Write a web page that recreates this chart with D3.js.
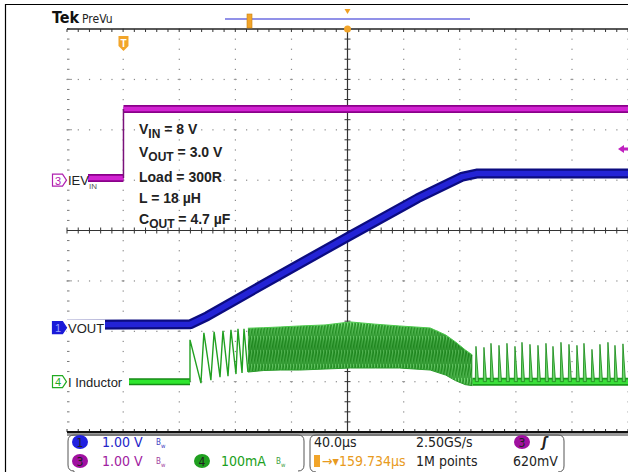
<!DOCTYPE html>
<html><head><meta charset="utf-8">
<script src="https://cdn.jsdelivr.net/npm/d3@7"></script>
<style>html,body{margin:0;padding:0;background:#fff;}svg{display:block}</style>
</head><body>
<svg id="scope" width="628" height="472"></svg>
<script>
// Horizontal: 40 µs/div over 10 divisions; vertical: 8 divisions
const timeDomain = [-200, 200];
const divDomain = [-4, 4];
const triggerTime = -159.734;

// Channel 3 (V_IN)
const vinTime  = [-200, -159.734, -159.734, 200];
const vinVolts = [0.04, 0.04, 1.41, 1.41];

// Channel 1 (VOUT)
const voutTime  = [-200, -112, -100, -50, 0, 50, 82, 92, 200];
const voutVolts = [0.06, 0.07, 0.23, 1.02, 1.80, 2.57, 3.0, 3.06, 3.06];

// Channel 4 (inductor current, mA)
const coilIdleTime = [-200, -112.3];
const coilIdleMA   = [0, 0];
const coilStartTime = [-112.3, -112.3, -104.5, -102.4, -97.4, -95.1, -90.9, -88.8, -85.2, -83.1, -79.5, -78.1, -75.2, -73.8, -71.0];
const coilStartMA   = [0, 83, -3, 97, 3, 99, 9, 101, 11, 103, 15, 105, 17, 105, 19];
const envTime     = [-71, -60, -48, -34, -16, 2, 20, 37, 59, 70, 77, 84, 89];
const envPeakMA   = [106, 107, 108.5, 110.5, 112.5, 118.5, 114, 110.5, 106.5, 92.7, 78.8, 62.9, 53];
const envValleyMA = [19, 22, 23, 23, 25, 27, 27, 27, 23, 13, 2, -6, -8];
const skipIdleTime = [89, 200];
const burstTime   = [91.6, 97.3, 102.3, 108.0, 113.7, 119.4, 124.4, 130.1, 135.8, 141.5, 146.5, 152.2, 157.9, 163.6, 168.6, 174.3, 180.0, 185.7, 190.7, 196.4];
const burstPeakMA = [70, 68, 76, 72, 76, 70, 78, 74, 72, 76, 70, 78, 74, 72, 76, 64, 74, 78, 72, 75];

// Channel vertical settings: marker offset (div) and units per div
const ch1 = {offset: -1.93, perDiv: 1};
const ch3 = {offset: 1.0, perDiv: 1};
const ch4 = {offset: -3.0, perDiv: 100};
const trigLevel = 0.62;

// Setup notes
const noteMain = ["V", "V", "Load  = 300R", "L = 18 \u00B5H", "C"];
const noteSub  = ["IN", "OUT", "", "", "OUT"];
const noteTail = [" = 8 V", " = 3.0 V", "", "", " = 4.7 \u00B5F"];

const svg = d3.select("#scope");
const x = d3.scaleLinear().domain(timeDomain).range([67, 628]);
const yDiv = d3.scaleLinear().domain(divDomain).range([432, 29]);
const yOf = ch => v => yDiv(ch.offset + v / ch.perDiv);
const y1 = yOf(ch1), y3 = yOf(ch3), y4 = yOf(ch4);
const zip = (a, b) => a.map((d, i) => [d, b[i]]);

// frame
svg.append("path").attr("d", "M5.5,472 V4.5 H628").attr("fill", "none").attr("stroke", "#000").attr("stroke-width", 1.2);

// graticule
const g = svg.append("g");
const dot = (cx, cy) => g.append("rect").attr("x", cx - 0.5).attr("y", cy - 0.5).attr("width", 1.2).attr("height", 1.2).attr("fill", "#8a8a8a");
const majorT = d3.range(-160, 201, 40).filter(t => t !== 0);
const minorT = d3.range(-200, 200.1, 8);
const majorD = d3.range(-3, 4, 1).filter(d => d !== 0);
const minorD = d3.range(-4, 4.01, 0.2);
majorT.forEach(t => minorD.forEach(d => dot(x(t), yDiv(d))));
majorD.forEach(d => minorT.forEach(t => dot(x(t), yDiv(d))));
majorT.forEach(t => majorD.forEach(d => {
  g.append("line").attr("x1", x(t) - 1.5).attr("x2", x(t) + 1.5).attr("y1", yDiv(d)).attr("y2", yDiv(d)).attr("stroke", "#999");
}));
// left border ticks
minorD.forEach(d => g.append("line").attr("x1", 67).attr("x2", 69.5).attr("y1", yDiv(d)).attr("y2", yDiv(d)).attr("stroke", "#777"));
majorD.forEach(d => g.append("line").attr("x1", 67).attr("x2", 72).attr("y1", yDiv(d)).attr("y2", yDiv(d)).attr("stroke", "#999"));

// center axes
const axisCol = "#333";
g.append("line").attr("x1", x(0)).attr("x2", x(0)).attr("y1", yDiv(4)).attr("y2", yDiv(-4)).attr("stroke", axisCol).attr("stroke-width", 1.2);
g.append("line").attr("x1", 67).attr("x2", 628).attr("y1", yDiv(0)).attr("y2", yDiv(0)).attr("stroke", axisCol).attr("stroke-width", 1);
minorD.forEach(d => g.append("line").attr("x1", x(0) - 3).attr("x2", x(0) + 3).attr("y1", yDiv(d)).attr("y2", yDiv(d)).attr("stroke", axisCol));
minorT.forEach(t => g.append("line").attr("x1", x(t)).attr("x2", x(t)).attr("y1", yDiv(0) - 3).attr("y2", yDiv(0) + 3).attr("stroke", axisCol));
// top and bottom borders
g.append("line").attr("x1", 67).attr("x2", 628).attr("y1", yDiv(4)).attr("y2", yDiv(4)).attr("stroke", "#222").attr("stroke-width", 1.5);
minorT.forEach(t => g.append("line").attr("x1", x(t)).attr("x2", x(t)).attr("y1", yDiv(4)).attr("y2", yDiv(4) + 3).attr("stroke", "#333"));
minorT.forEach(t => g.append("line").attr("x1", x(t)).attr("x2", x(t)).attr("y1", yDiv(-4) - 3).attr("y2", yDiv(-4)).attr("stroke", "#333"));
g.append("rect").attr("x", 67).attr("y", yDiv(-4) + 1).attr("width", 561).attr("height", 3).attr("fill", "#9a9a9a");
g.append("line").attr("x1", 67).attr("x2", 628).attr("y1", yDiv(-4)).attr("y2", yDiv(-4)).attr("stroke", "#111").attr("stroke-width", 2);

// defs: dense switching texture
const defs = svg.append("defs");
const pat = defs.append("pattern").attr("id", "sw").attr("patternUnits", "userSpaceOnUse").attr("width", 3).attr("height", 14);
pat.append("rect").attr("width", 3).attr("height", 14).attr("fill", "#79dc79");
pat.append("path").attr("d", "M0,0 L1.2,14 M1.2,0 L3,14 M-1.8,0 L0,14").attr("stroke", "#1d8a1d").attr("stroke-width", 0.9).attr("fill", "none");
const grad = defs.append("linearGradient").attr("id", "core").attr("x1", 0).attr("x2", 0).attr("y1", 0).attr("y2", 1);
grad.append("stop").attr("offset", "0%").attr("stop-color", "#0a6a0a").attr("stop-opacity", 0);
grad.append("stop").attr("offset", "40%").attr("stop-color", "#0a6a0a").attr("stop-opacity", 0.4);
grad.append("stop").attr("offset", "75%").attr("stop-color", "#0a6a0a").attr("stop-opacity", 0.2);
grad.append("stop").attr("offset", "100%").attr("stop-color", "#0a6a0a").attr("stop-opacity", 0);

const line = d3.line().x(d => x(d[0]));

// channel 4 inductor current
const tr = svg.append("g");
const idle = line.y(d => y4(d[1]));
tr.append("path").attr("d", idle(zip(coilIdleTime, coilIdleMA))).attr("stroke", "#168a16").attr("stroke-width", 7).attr("fill", "none");
tr.append("path").attr("d", idle(zip(coilIdleTime, coilIdleMA))).attr("stroke", "#2ee62e").attr("stroke-width", 4).attr("fill", "none");
tr.append("path").attr("d", idle(zip(skipIdleTime, [0, 0]))).attr("stroke", "#1a991a").attr("stroke-width", 8).attr("fill", "none");
tr.append("path").attr("d", idle(zip(skipIdleTime, [0, 0]))).attr("stroke", "#3ae03a").attr("stroke-width", 4.5).attr("fill", "none");
const envData = envTime.map((t, i) => ({t, p: envPeakMA[i], v: envValleyMA[i]}));
const band = d3.area().x(d => x(d.t)).y0(d => y4(d.v)).y1(d => y4(d.p));
tr.append("path").attr("d", band(envData)).attr("fill", "url(#sw)");
tr.append("path").attr("d", band(envData)).attr("fill", "url(#core)");
tr.append("path").attr("d", d3.line().x(d => x(d.t)).y(d => y4(d.p))(envData)).attr("stroke", "#4cc94c").attr("fill", "none");
tr.append("path").attr("d", d3.line().x(d => x(d.t)).y(d => y4(d.v))(envData)).attr("stroke", "#2a9a2a").attr("fill", "none");
tr.append("path").attr("d", line.y(d => y4(d[1]))(zip(coilStartTime, coilStartMA))).attr("stroke", "#22a022").attr("stroke-width", 1.4).attr("fill", "none");
burstTime.forEach((t, i) => {
  const p = [[t - 0.5, 0], [t, burstPeakMA[i]], [t + 1.8, 0]];
  tr.append("path").attr("d", line.y(d => y4(d[1]))(p) + "Z").attr("fill", "#6ad86a").attr("stroke", "#1f8f1f").attr("stroke-width", 0.9);
});

// channel 1 VOUT
const vout = zip(voutTime, voutVolts);
tr.append("path").attr("d", line.y(d => y1(d[1]))(vout)).attr("stroke", "#0c0c80").attr("stroke-width", 10).attr("fill", "none").attr("stroke-linejoin", "round");
tr.append("path").attr("d", line.y(d => y1(d[1]))(vout)).attr("stroke", "#2323d6").attr("stroke-width", 5.5).attr("fill", "none").attr("stroke-linejoin", "round");

// channel 3 VIN: flat levels drawn thick, the edge itself as a thin stroke
const vin = zip(vinTime, vinVolts);
const vinLow = vin.slice(0, 2), vinHigh = vin.slice(2);
[vinLow, vinHigh].forEach(seg => {
  tr.append("path").attr("d", line.y(d => y3(d[1]))(seg)).attr("stroke", "#8a008a").attr("stroke-width", 8).attr("fill", "none");
  tr.append("path").attr("d", line.y(d => y3(d[1]))(seg)).attr("stroke", "#d224d2").attr("stroke-width", 4.5).attr("fill", "none");
});
tr.append("line").attr("x1", x(vinTime[1])).attr("x2", x(vinTime[2])).attr("y1", y3(vinVolts[1])).attr("y2", y3(vinVolts[2])).attr("stroke", "#7a107a").attr("stroke-width", 1.5);

// trigger level arrow
svg.append("path").attr("d", `M${x(200) - 10},${y3(trigLevel)} l6,-4 v2.5 h4 v3 h-4 v2.5 Z`).attr("fill", "#c020c0");

// setup notes
const sans = "Liberation Sans, Arial, sans-serif";
const notes = svg.append("g").attr("font-family", sans).attr("font-weight", "bold").attr("font-size", 14).attr("fill", "#222");
const noteY = [134, 157, 182, 203, 224];
noteMain.forEach((m, i) => {
  const t = notes.append("text").attr("x", 139).attr("y", noteY[i]);
  t.append("tspan").text(m);
  if (noteSub[i]) t.append("tspan").attr("font-size", 12).attr("dy", 3.5).text(noteSub[i]);
  if (noteTail[i]) t.append("tspan").attr("dy", noteSub[i] ? -3.5 : 0).text(noteTail[i]);
});

// channel markers and labels
const narrow = "Liberation Sans Narrow, DejaVu Sans Condensed, Arial Narrow, sans-serif";
function marker(yc, col, num, filled) {
  svg.append("path").attr("d", `M52.5,${yc - 6} h10 l4,6 l-4,6 h-10 Z`).attr("fill", filled ? col : "#fff").attr("stroke", col).attr("stroke-width", 1.2);
  svg.append("text").attr("x", 58).attr("y", yc + 4.5).attr("text-anchor", "middle").attr("font-family", sans).attr("font-size", 11).attr("fill", filled ? "#9aa0ff" : col).text(num);
}
function chLabel(yc, w, parts) {
  svg.append("rect").attr("x", 67).attr("y", yc - 8).attr("width", w).attr("height", 15).attr("fill", "#fff");
  const t = svg.append("text").attr("x", 68).attr("y", yc + 5).attr("font-family", sans).attr("font-size", 13).attr("fill", "#222");
  parts.forEach(p => t.append("tspan").attr("font-size", p[1]).attr("dy", p[2]).text(p[0]));
}
chLabel(y1(0), 38, [["VOUT", 13, 0]]);
marker(y1(0), "#1a1ad8", "1", true);
chLabel(y4(0), 62, [["I Inductor", 13, 0]]);
marker(y4(0), "#22aa22", "4", false);
chLabel(y3(0), 21, [["IEV", 13, 0]]);
svg.append("text").attr("x", 89).attr("y", y3(0) + 9).attr("font-family", sans).attr("font-size", 8).attr("fill", "#555").text("IN");
marker(y3(0), "#b020b0", "3", false);

// header
const head = svg.append("text").attr("x", 52).attr("y", 23).attr("font-family", narrow);
head.append("tspan").attr("font-weight", "bold").attr("font-size", 16).attr("fill", "#111").text("Tek");
head.append("tspan").attr("font-size", 12).attr("dx", 3).attr("fill", "#222").text("PreVu");
svg.append("line").attr("x1", 225).attr("x2", 470).attr("y1", 19).attr("y2", 19).attr("stroke", "#6c6ce0").attr("stroke-width", 1.5);
svg.append("rect").attr("x", 247).attr("y", 14).attr("width", 5).attr("height", 14).attr("fill", "#f2a52a").attr("stroke", "#c98010").attr("stroke-width", 0.6);
svg.append("path").attr("d", `M${x(0) - 3},9 h6 l-3,5 Z`).attr("fill", "#f0a020");
svg.append("circle").attr("cx", x(0)).attr("cy", yDiv(4)).attr("r", 3.5).attr("fill", "#f2a52a");
svg.append("path").attr("d", `M${x(triggerTime) - 5},36 h10 v10 l-5,5 l-5,-5 Z`).attr("fill", "#f2a52a");
svg.append("text").attr("x", x(triggerTime)).attr("y", 47).attr("text-anchor", "middle").attr("font-family", sans).attr("font-weight", "bold").attr("font-size", 10).attr("fill", "#fff").text("T");

// readout panels
const rd = svg.append("g").attr("font-family", narrow).attr("font-size", 14);
rd.append("path").attr("d", "M74,472 v-1 q-6,0 -6,-6 v-24 q0,-6 6,-6 h224 q6,0 6,6 v24 q0,6 -6,6").attr("fill", "none").attr("stroke", "#555");
rd.append("path").attr("d", "M316,472 q-6,0 -6,-6 v-25 q0,-6 6,-6 h242 q6,0 6,6 v25 q0,6 -6,6").attr("fill", "none").attr("stroke", "#555");
function chip(cx, cy, col, num) {
  rd.append("ellipse").attr("cx", cx).attr("cy", cy).attr("rx", 8).attr("ry", 7).attr("fill", col);
  rd.append("text").attr("x", cx).attr("y", cy + 4.5).attr("text-anchor", "middle").attr("font-size", 12).attr("fill", "#222").text(num);
}
function bw(xx, yy, col) {
  const t = rd.append("text").attr("x", xx).attr("y", yy).attr("font-size", 8).attr("fill", col);
  t.append("tspan").text("B");
  t.append("tspan").attr("font-size", 6).attr("dy", 3).text("w");
}
chip(80, 442, "#2020e0", "1");
rd.append("text").attr("x", 102).attr("y", 447).attr("fill", "#2424c8").text("1.00 V");
bw(156, 445, "#4040c0");
chip(80, 461, "#a010a0", "3");
rd.append("text").attr("x", 102).attr("y", 466).attr("fill", "#a020a0").text("1.00 V");
bw(156, 464, "#a040a0");
chip(202, 461, "#20a020", "4");
rd.append("text").attr("x", 221).attr("y", 466).attr("fill", "#20a020").text("100mA");
bw(276, 464, "#40a040");
rd.append("text").attr("x", 314).attr("y", 447).attr("fill", "#222").text("40.0\u00B5s");
rd.append("text").attr("x", 416).attr("y", 447).attr("fill", "#222").text("2.50GS/s");
chip(522, 442, "#a010a0", "3");
rd.append("text").attr("x", 542).attr("y", 447).attr("font-style", "italic").attr("font-weight", "bold").attr("fill", "#222").text("\u0283");
rd.append("rect").attr("x", 314).attr("y", 455).attr("width", 6).attr("height", 12).attr("fill", "#f2a52a");
rd.append("text").attr("x", 322).attr("y", 466).attr("fill", "#e89a20").text("\u2192\u25BE159.734\u00B5s");
rd.append("text").attr("x", 416).attr("y", 466).attr("fill", "#222").text("1M points");
rd.append("text").attr("x", 513).attr("y", 466).attr("fill", "#222").text("620mV");
</script>
</body></html>
